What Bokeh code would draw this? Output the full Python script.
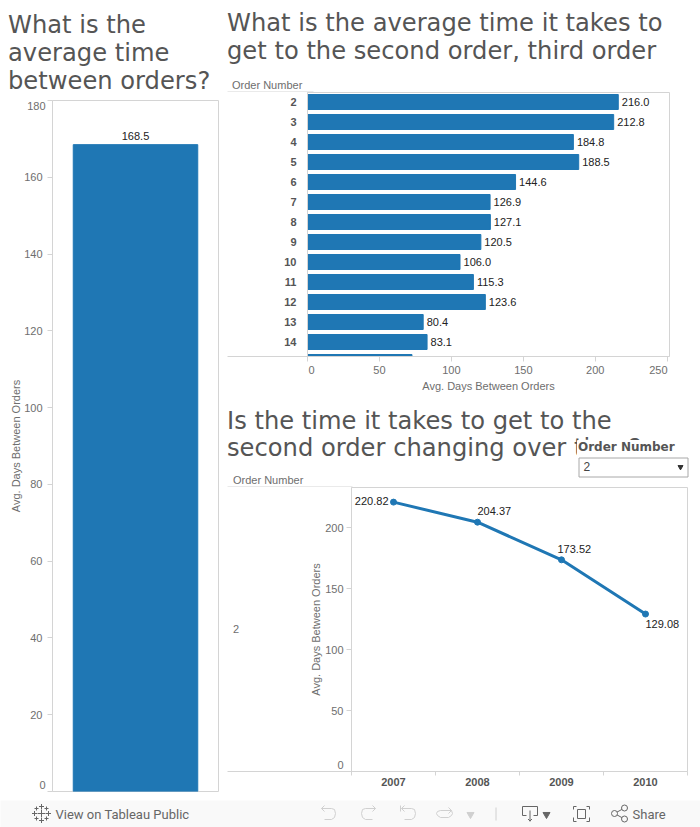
from bokeh.plotting import figure
from bokeh.layouts import column, row
from bokeh.embed import file_html
from bokeh.resources import INLINE
from bokeh.core.properties import value
from bokeh.models import Range1d, FixedTicker, ColumnDataSource

BLUE = "#1f77b4"
GRID = "#d4d4d4"
AX = "#6e6e6e"
TITLE = "#555555"
ARIAL = "Liberation Sans"

overall_value = [168.5]
overall_ticks = [0, 20, 40, 60, 80, 100, 120, 140, 160, 180]
order_numbers = [2, 3, 4, 5, 6, 7, 8, 9, 10, 11, 12, 13, 14, 15]
order_days = [216.0, 212.8, 184.8, 188.5, 144.6, 126.9, 127.1, 120.5, 106.0, 115.3, 123.6, 80.4, 83.1, 72.6]
order_day_ticks = [0, 50, 100, 150, 200, 250]
years = [2007, 2008, 2009, 2010]
year_days = [220.82, 204.37, 173.52, 129.08]
year_day_ticks = [0, 50, 100, 150, 200]
y_title = "Avg. Days Between Orders"
x_title = "Avg. Days Between Orders"


def header(w, h):
    p = figure(width=w, height=h, x_range=Range1d(0, w), y_range=Range1d(h, 0),
               toolbar_location=None, output_backend="svg", min_border=0, frame_align=False,
               x_axis_location=None, y_axis_location=None, outline_line_color=None)
    p.grid.visible = False
    return p


def txt(p, x, y, s, size, color, font="DejaVu Sans", style="normal", align="left"):
    p.text([x], [y], text=[s], text_font=value(font), text_font_size=f"{size}px",
           text_color=color, text_font_style=style, text_baseline="middle", text_align=align)


def style_axis(ax):
    ax.axis_line_color = GRID
    ax.major_tick_line_color = GRID
    ax.minor_tick_line_color = None
    ax.major_tick_out = 5
    ax.major_tick_in = 0
    ax.major_label_text_font = ARIAL
    ax.major_label_text_font_size = "11px"
    ax.major_label_text_color = AX
    ax.axis_label_text_font = ARIAL
    ax.axis_label_text_font_size = "11px"
    ax.axis_label_text_font_style = "normal"
    ax.axis_label_text_color = AX


# ---- left panel
h_left = header(222, 96)
for i, s in enumerate(["What is the", "average time", "between orders?"]):
    txt(h_left, 7.5, 24 + 28 * i, s, 24.2, TITLE)

left = figure(width=222, height=704, x_range=Range1d(-0.5, 0.5), y_range=Range1d(0, 180),
              toolbar_location=None, output_backend="svg", min_border_left=52, min_border_right=4,
              min_border_top=4, min_border_bottom=9, x_axis_location=None, frame_align=False,
              outline_line_color=GRID)
left.grid.visible = False
src_left = ColumnDataSource(dict(x=[0], top=overall_value, label=[f"{v:.1f}" for v in overall_value]))
left.vbar(x="x", top="top", width=0.75, source=src_left, color=BLUE)
left.text(x="x", y="top", text="label", source=src_left, text_font=value(ARIAL), text_font_size="11px",
          text_color="#222222", text_align="center", text_baseline="bottom", y_offset=-5)
style_axis(left.yaxis[0])
left.yaxis.ticker = FixedTicker(ticks=overall_ticks)
left.yaxis.major_label_overrides = {0: " ", 180: " "}
left.yaxis.major_label_standoff = 5
left.yaxis.axis_label = y_title
left.yaxis.axis_label_standoff = -1

# ---- top right panel
h_top = header(478, 92)
for i, s in enumerate(["What is the average time it takes to", "get to the second order, third order"]):
    txt(h_top, 4.5, 22 + 28 * i, s, 24.2, TITLE)
txt(h_top, 9.5, 84, "Order Number", 11, AX, ARIAL)
h_top.segment([5], [91.5], [91], [91.5], line_color=GRID, line_width=1)

bars = figure(width=478, height=308, x_range=Range1d(0, 251.6), y_range=Range1d(14.725, 1.525),
              toolbar_location=None, output_backend="svg", min_border_left=85, min_border_right=31,
              min_border_top=0, min_border_bottom=44, frame_align=False, outline_line_color=GRID)
bars.grid.visible = False
src_bars = ColumnDataSource(dict(y=order_numbers, right=order_days, label=[f"{v:.1f}" for v in order_days]))
bars.hbar(y="y", right="right", left=0, height=0.75, source=src_bars, color=BLUE)
bars.text(x="right", y="y", text="label", source=src_bars, text_font=value(ARIAL), text_font_size="11px",
          text_color="#222222", text_align="left", text_baseline="middle", x_offset=3.5)
style_axis(bars.xaxis[0])
bars.xaxis.ticker = FixedTicker(ticks=order_day_ticks)
bars.xaxis.major_label_overrides = {0: " ", 250: " "}
bars.xaxis.major_label_standoff = 2
bars.xaxis.axis_label = x_title
bars.xaxis.axis_label_standoff = 1
style_axis(bars.yaxis[0])
bars.yaxis.major_tick_line_color = None
bars.yaxis.ticker = FixedTicker(ticks=order_numbers[:-1])
bars.yaxis.major_label_text_font_style = "bold"
bars.yaxis.major_label_text_color = "#555555"
bars.yaxis.major_label_standoff = 6

# ---- bottom right panel
h_bot = header(478, 87)
for i, s in enumerate(["Is the time it takes to get to the", "second order changing over time?"]):
    txt(h_bot, 4.5, 20 + 27.5 * i, s, 24.2, TITLE)
h_bot.quad(left=[355], right=[478], top=[40], bottom=[87], color="white")
txt(h_bot, 355.5, 46.5, "Order Number", 12, "#555555", "DejaVu Sans", "bold")
h_bot.quad(left=[356.5], right=[465.5], top=[57.5], bottom=[76.5], fill_color="white", line_color="#a8a8a8")
txt(h_bot, 361, 66, "2", 12, "#444444", ARIAL)
h_bot.scatter([458], [66.5], marker="inverted_triangle", size=5, color="#333333")
txt(h_bot, 10.5, 79.5, "Order Number", 11, AX, ARIAL)
h_bot.segment([5], [86.5], [130], [86.5], line_color=GRID, line_width=1)

trend = figure(width=478, height=313, x_range=Range1d(2006.5, 2010.5), y_range=Range1d(0, 232.8),
               toolbar_location=None, output_backend="svg", min_border_left=129, min_border_right=13,
               min_border_top=0, min_border_bottom=29, frame_align=False, outline_line_color=GRID)
trend.grid.visible = False
trend.line(years, year_days, line_color=BLUE, line_width=3)
trend.scatter(years, year_days, size=6, color=BLUE)
for xv, yv, xo, yo, al in zip(years, year_days, [-5, 0, -4, 0], [-1, -11, -11, 10], ["right", "left", "left", "left"]):
    trend.text([xv], [yv], text=[f"{yv:.2f}"], text_font=value(ARIAL), text_font_size="11px", text_color="#222222",
               text_align=al, text_baseline="middle", x_offset=xo, y_offset=yo)
style_axis(trend.yaxis[0])
trend.yaxis.ticker = FixedTicker(ticks=year_day_ticks)
trend.yaxis.major_label_overrides = {0: " "}
trend.yaxis.major_label_standoff = 3
trend.yaxis.axis_label = y_title
trend.yaxis.axis_label_standoff = 0
style_axis(trend.xaxis[0])
trend.xaxis.ticker = FixedTicker(ticks=years, minor_ticks=[2006.5, 2007.5, 2008.5, 2009.5, 2010.5])
trend.xaxis.major_label_overrides = {y: str(y) for y in years}
trend.xaxis.major_tick_line_color = None
trend.xaxis.minor_tick_line_color = GRID
trend.xaxis.minor_tick_out = 4
trend.xaxis.minor_tick_in = 0
trend.xaxis.major_label_text_font_style = "bold"
trend.xaxis.major_label_text_color = "#555555"
trend.xaxis.major_label_standoff = 1

# ---- toolbar
bar = figure(width=700, height=27, x_range=Range1d(0, 700), y_range=Range1d(27, 0), toolbar_location=None,
             output_backend="svg", min_border=0, x_axis_location=None, y_axis_location=None, frame_align=False,
             outline_line_color=None, background_fill_color="#f9f9f9", border_fill_color="#f9f9f9")
bar.grid.visible = False
txt(bar, 55, 13.5, "View on Tableau Public", 13, "#666666", "Roboto")
txt(bar, 632, 13.5, "Share", 13, "#666666", "Roboto")
LIGHT = "#d0d0d0"
DARK = "#666666"
lx, ly = [], []
for cx, cy, r in [(41, 13, 4), (41, 6, 2.5), (41, 20, 2.5), (34, 13, 2.5), (48, 13, 2.5),
                  (36, 8, 2), (46, 8, 2), (36, 18, 2), (46, 18, 2)]:
    lx += [[cx - r, cx + r], [cx, cx]]
    ly += [[cy, cy], [cy - r, cy + r]]
bar.multi_line(lx, ly, line_color=DARK, line_width=1)
for base, flip in [(320, 1), (376, -1)]:
    f = lambda d: base + flip * d
    bar.multi_line([[f(1), f(11), f(14), f(15), f(14), f(11), f(4)], [f(1), f(4)], [f(1), f(4)]],
                   [[8, 8, 9, 13, 17, 19, 19], [8, 5], [8, 11]], line_color=LIGHT, line_width=1)
f = lambda d: 400 + d
bar.multi_line([[f(1), f(11), f(14), f(15), f(14), f(11), f(4)], [f(1), f(4)], [f(1), f(4)], [f(0), f(0)]],
               [[8, 8, 9, 13, 17, 19, 19], [8, 5], [8, 11], [5, 11]], line_color=LIGHT, line_width=1)
f = lambda d: 436 + d
bar.multi_line([[f(15), f(4), f(1), f(0), f(1), f(4), f(12), f(15), f(16), f(15)], [f(12), f(15)], [f(12), f(15)]],
               [[10, 10, 11, 13, 15, 17, 17, 15, 13, 10], [7, 10], [13, 10]], line_color=LIGHT, line_width=1)
bar.scatter([470, 546], [14, 14], marker="inverted_triangle", size=7, color=[LIGHT, DARK])
bar.segment([495.5], [7], [495.5], [20], line_color=LIGHT)
bar.multi_line([[526, 522, 522, 537, 537, 533], [529.5, 529.5], [527.5, 529.5, 531.5]],
               [[15, 15, 6, 6, 15, 15], [10, 21], [18.5, 20.5, 18.5]], line_color=DARK, line_width=1)
bar.multi_line([[573, 573, 576], [586, 589, 589], [589, 589, 586], [576, 573, 573], [577, 585, 585, 577, 577]],
               [[9, 6, 6], [6, 6, 9], [17, 21, 21], [21, 21, 17], [9, 9, 18, 18, 9]], line_color=DARK, line_width=1)
bar.multi_line([[614, 623], [614, 623]], [[13, 8], [13, 18]], line_color=DARK, line_width=1)
bar.scatter([614, 624, 624], [13, 7.5, 18.5], marker="circle", size=6, fill_color="#f9f9f9", line_color=DARK)

# ---- transparent overlay: row header, clamped end labels and the rules that run past the frames
over = figure(width=700, height=827, x_range=Range1d(0, 700), y_range=Range1d(827, 0), toolbar_location=None,
              output_backend="svg", min_border=0, x_axis_location=None, y_axis_location=None, frame_align=False,
              outline_line_color=None, background_fill_alpha=0, border_fill_alpha=0, margin=(-827, 0, 0, 0))
over.grid.visible = False
over.segment([227, 227], [356, 771], [308, 352], [356, 771], line_color=GRID, line_width=1)
txt(over, 45, 105.5, "180", 11, AX, ARIAL, align="right")
txt(over, 45, 784, "0", 11, AX, ARIAL, align="right")
txt(over, 308, 369, "0", 11, AX, ARIAL)
txt(over, 667, 369, "250", 11, AX, ARIAL, align="right")
txt(over, 232.5, 628.5, "2", 11, AX, ARIAL)
txt(over, 343, 764, "0", 11, AX, ARIAL, align="right")

left_col = column(h_left, left, spacing=0)
right_col = column(h_top, bars, h_bot, trend, spacing=0)
top_row = row(left_col, right_col, spacing=0)
root = column(top_row, bar, over, spacing=0)

open("out.html", "w").write(file_html(root, INLINE))
